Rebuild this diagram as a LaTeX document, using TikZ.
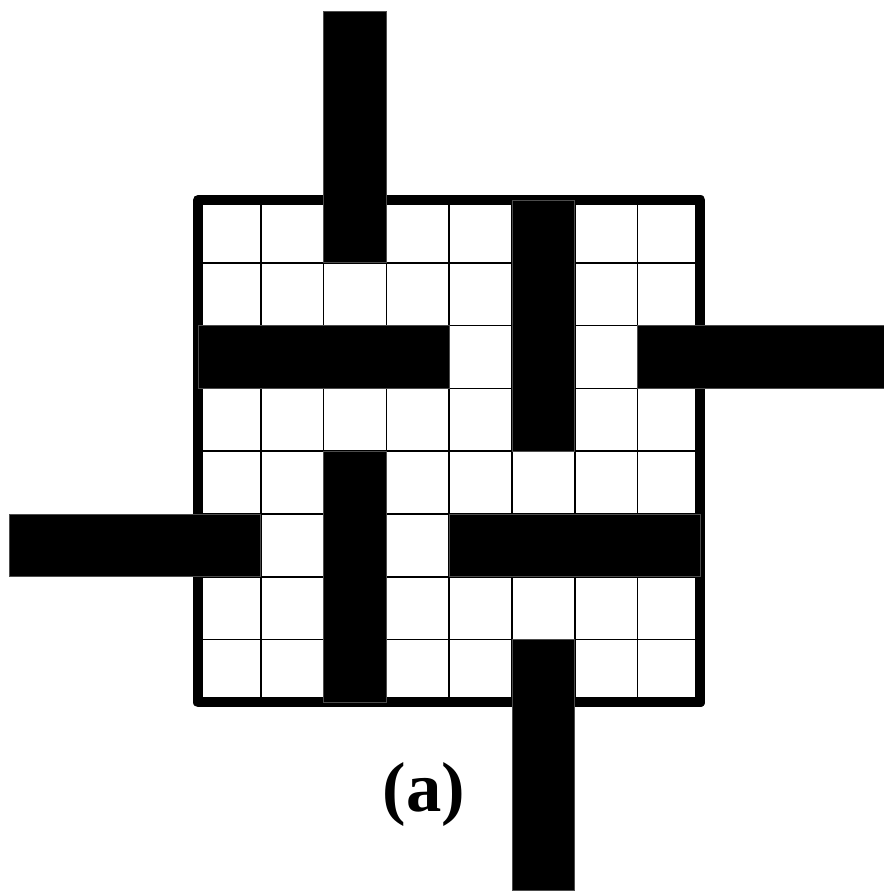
\documentclass[tikz,border=0pt]{standalone}
\usepackage{fontspec}
\setmainfont{Liberation Serif}
\usepackage{tikz}

\begin{document}
\begin{tikzpicture}[
    cell/.style={draw, line width=0.8pt},
    frame/.style={draw, line width=4.6pt, line join=round},
    bar/.style={fill=black, draw=black!70, line width=0.4pt},
    every node/.style={font=\bfseries\fontsize{32}{38}\selectfont}
]
\useasboundingbox (-3.153,-3.051) rectangle (10.908,11.185);

% Board
\draw[cell] (0,0) grid (8,8);
\draw[frame] (0,0) rectangle (8,8);

% Bars inside the board
\draw[bar] (5,4) rectangle (6,8);
\draw[bar] (0,5) rectangle (4,6);
\draw[bar] (2,0) rectangle (3,4);
\draw[bar] (4,2) rectangle (8,3);

% Bars reaching out of the board
\draw[bar] (2,7) rectangle (3,11);
\draw[bar] (7,5) rectangle (11,6);
\draw[bar] (-3,2) rectangle (1,3);
\draw[bar] (5,-3) rectangle (6,1);

% Caption
\node[anchor=base] (caption) at (3.6,-1.745) {(a)};

\end{tikzpicture}
\end{document}
